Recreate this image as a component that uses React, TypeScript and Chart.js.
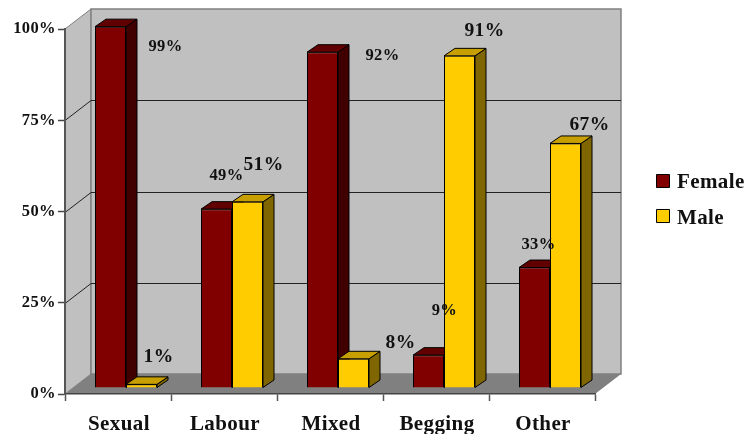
import React, { useEffect, useRef } from "react";
import { Chart, registerables } from "chart.js";

Chart.register(...registerables);

const categories = ["Sexual", "Labour", "Mixed", "Begging", "Other"];
const seriesNames = ["Female", "Male"];
const femaleValues = [99, 49, 92, 9, 33];
const maleValues = [1, 51, 8, 91, 67];
const axisMax = 100;
const axisStep = 25;

const FONT = "'Liberation Serif', serif";
const frontColors = ["#800000", "#FFCC00"];
const topColors = ["#600000", "#C89F00"];
const sideColors = ["#400000", "#806600"];
const WALL_DX = 26;
const WALL_DY = -20;
const BAR_SHIFT_X = 8;
const BAR_SHIFT_Y = -6;
const BAR_DX = 11;
const BAR_DY = -7.5;
// label placement relative to the top centre of each bar, and font size per series
const femaleLabelOffsets = [[55, 20], [10, -33], [60, 4], [16, -44], [4, -23]];
const maleLabelOffsets = [[17, -27], [16, -37], [47, -16], [25, -25], [24, -18]];
const labelSizes = [16.5, 19.5];
// legend placement
const legendBoxX = 656.5;
const legendBoxTops = [174.5, 209.5];
const legendTextX = 677;
const legendBaselines = [188, 223.5];

function poly(ctx: CanvasRenderingContext2D, pts: number[][], fill: string | null, stroke: string | null, lw = 1) {
  ctx.beginPath();
  pts.forEach((p, i) => (i ? ctx.lineTo(p[0], p[1]) : ctx.moveTo(p[0], p[1])));
  ctx.closePath();
  if (fill) {
    ctx.fillStyle = fill;
    ctx.fill();
  }
  if (stroke) {
    ctx.strokeStyle = stroke;
    ctx.lineWidth = lw;
    ctx.stroke();
  }
}

function drawFaces(ctx: CanvasRenderingContext2D, meta: any, i: number) {
  meta.data.forEach((bar: any) => {
    const l = bar.x - bar.width / 2;
    const r = bar.x + bar.width / 2;
    const t = bar.y;
    const b = bar.base;
    poly(ctx, [[r, t], [r + BAR_DX, t + BAR_DY], [r + BAR_DX, b + BAR_DY], [r, b]], sideColors[i], "#000");
    poly(ctx, [[l, t], [l + BAR_DX, t + BAR_DY], [r + BAR_DX, t + BAR_DY], [r, t]], topColors[i], "#000");
  });
}

const scenePlugin = {
  id: "scene3d",
  beforeDraw(chart: any) {
    const ctx: CanvasRenderingContext2D = chart.ctx;
    ctx.letterSpacing = "0.4px";
    const { left, right, top, bottom } = chart.chartArea;
    const y = chart.scales.y;
    ctx.save();
    poly(ctx, [[left, top], [left + WALL_DX, top + WALL_DY], [left + WALL_DX, bottom + WALL_DY], [left, bottom]], "#C0C0C0", "#808080");
    poly(ctx, [[left + WALL_DX, top + WALL_DY], [right + WALL_DX, top + WALL_DY], [right + WALL_DX, bottom + WALL_DY], [left + WALL_DX, bottom + WALL_DY]], "#C0C0C0", "#808080", 1.5);
    poly(ctx, [[left, bottom], [right, bottom], [right + WALL_DX, bottom + WALL_DY], [left + WALL_DX, bottom + WALL_DY]], "#808080", null);
    y.ticks.forEach((t: any) => {
      if (t.value === 0 || t.value === axisMax) return;
      const py = Math.round(y.getPixelForValue(t.value)) + 0.5;
      ctx.beginPath();
      ctx.moveTo(left, py);
      ctx.lineTo(left + WALL_DX, py + WALL_DY);
      ctx.lineTo(right + WALL_DX, py + WALL_DY);
      ctx.strokeStyle = "#222";
      ctx.lineWidth = 1;
      ctx.stroke();
    });
    ctx.restore();
  },
  beforeDatasetDraw(chart: any, args: any) {
    // Chart.js paints the last dataset first; the Male bars must sit in front,
    // so they are painted after the Female ones (see afterDatasetDraw).
    if (args.index === 1) return false;
    const ctx: CanvasRenderingContext2D = chart.ctx;
    ctx.save();
    ctx.translate(BAR_SHIFT_X, BAR_SHIFT_Y);
    drawFaces(ctx, args.meta, args.index);
  },
  afterDatasetDraw(chart: any) {
    const ctx: CanvasRenderingContext2D = chart.ctx;
    const male = chart.getDatasetMeta(1);
    drawFaces(ctx, male, 1);
    male.controller.draw();
    ctx.restore();
  },
  afterDatasetsDraw(chart: any) {
    const ctx: CanvasRenderingContext2D = chart.ctx;
    ctx.save();
    ctx.fillStyle = "#111";
    ctx.textAlign = "center";
    ctx.textBaseline = "middle";
    chart.data.datasets.forEach((ds: any, i: number) => {
      const offsets = i === 0 ? femaleLabelOffsets : maleLabelOffsets;
      ctx.font = `bold ${labelSizes[i]}px ${FONT}`;
      chart.getDatasetMeta(i).data.forEach((bar: any, j: number) => {
        ctx.fillText(`${ds.data[j]}%`, bar.x + BAR_SHIFT_X + offsets[j][0], bar.y + BAR_SHIFT_Y + offsets[j][1]);
      });
    });
    ctx.textAlign = "left";
    ctx.textBaseline = "alphabetic";
    ctx.font = `bold 21px ${FONT}`;
    chart.data.datasets.forEach((ds: any, i: number) => {
      poly(ctx, [
        [legendBoxX, legendBoxTops[i]],
        [legendBoxX + 13, legendBoxTops[i]],
        [legendBoxX + 13, legendBoxTops[i] + 13],
        [legendBoxX, legendBoxTops[i] + 13],
      ], ds.backgroundColor, "#000");
      ctx.fillStyle = "#111";
      ctx.fillText(ds.label, legendTextX, legendBaselines[i]);
    });
    ctx.restore();
  },
};

export default function App() {
  const ref = useRef<HTMLCanvasElement>(null);
  useEffect(() => {
    const chart = new Chart(ref.current as HTMLCanvasElement, {
      type: "bar",
      data: {
        labels: categories,
        datasets: [femaleValues, maleValues].map((data, i) => ({
          label: seriesNames[i],
          data,
          backgroundColor: frontColors[i],
          borderColor: "#000",
          borderWidth: 1,
          clip: false,
          categoryPercentage: 0.585,
          barPercentage: 1,
        })),
      },
      options: {
        animation: false,
        responsive: false,
        layout: { padding: { top: 29, right: 149, left: 0, bottom: 0 } },
        plugins: {
          tooltip: { enabled: false },
          legend: { display: false },
        },
        scales: {
          x: {
            afterFit(s: any) {
              s.height = 40;
            },
            border: { color: "#444", width: 1.5 },
            grid: { drawOnChartArea: false, tickLength: 7, tickColor: "#555", tickWidth: 1.5 },
            ticks: {
              color: "#111",
              padding: 11,
              labelOffset: 1,
              maxRotation: 0,
              font: { family: FONT, size: 21, weight: "bold" },
            },
          },
          y: {
            min: 0,
            max: axisMax,
            afterFit(s: any) {
              s.width = 65;
            },
            border: { color: "#555", width: 2 },
            grid: { drawOnChartArea: false, tickLength: 7, tickColor: "#444", tickWidth: 1.5 },
            ticks: {
              stepSize: axisStep,
              color: "#111",
              padding: 2,
              font: { family: FONT, size: 16.5, weight: "bold" },
              callback: (v: any) => `${v}%`,
            },
          },
        },
      } as any,
      plugins: [scenePlugin],
    });
    return () => chart.destroy();
  }, []);
  return (
    <canvas
      ref={ref}
      width={744}
      height={434}
      style={{ position: "fixed", left: 0, top: 0, width: 744, height: 434 }}
    />
  );
}
